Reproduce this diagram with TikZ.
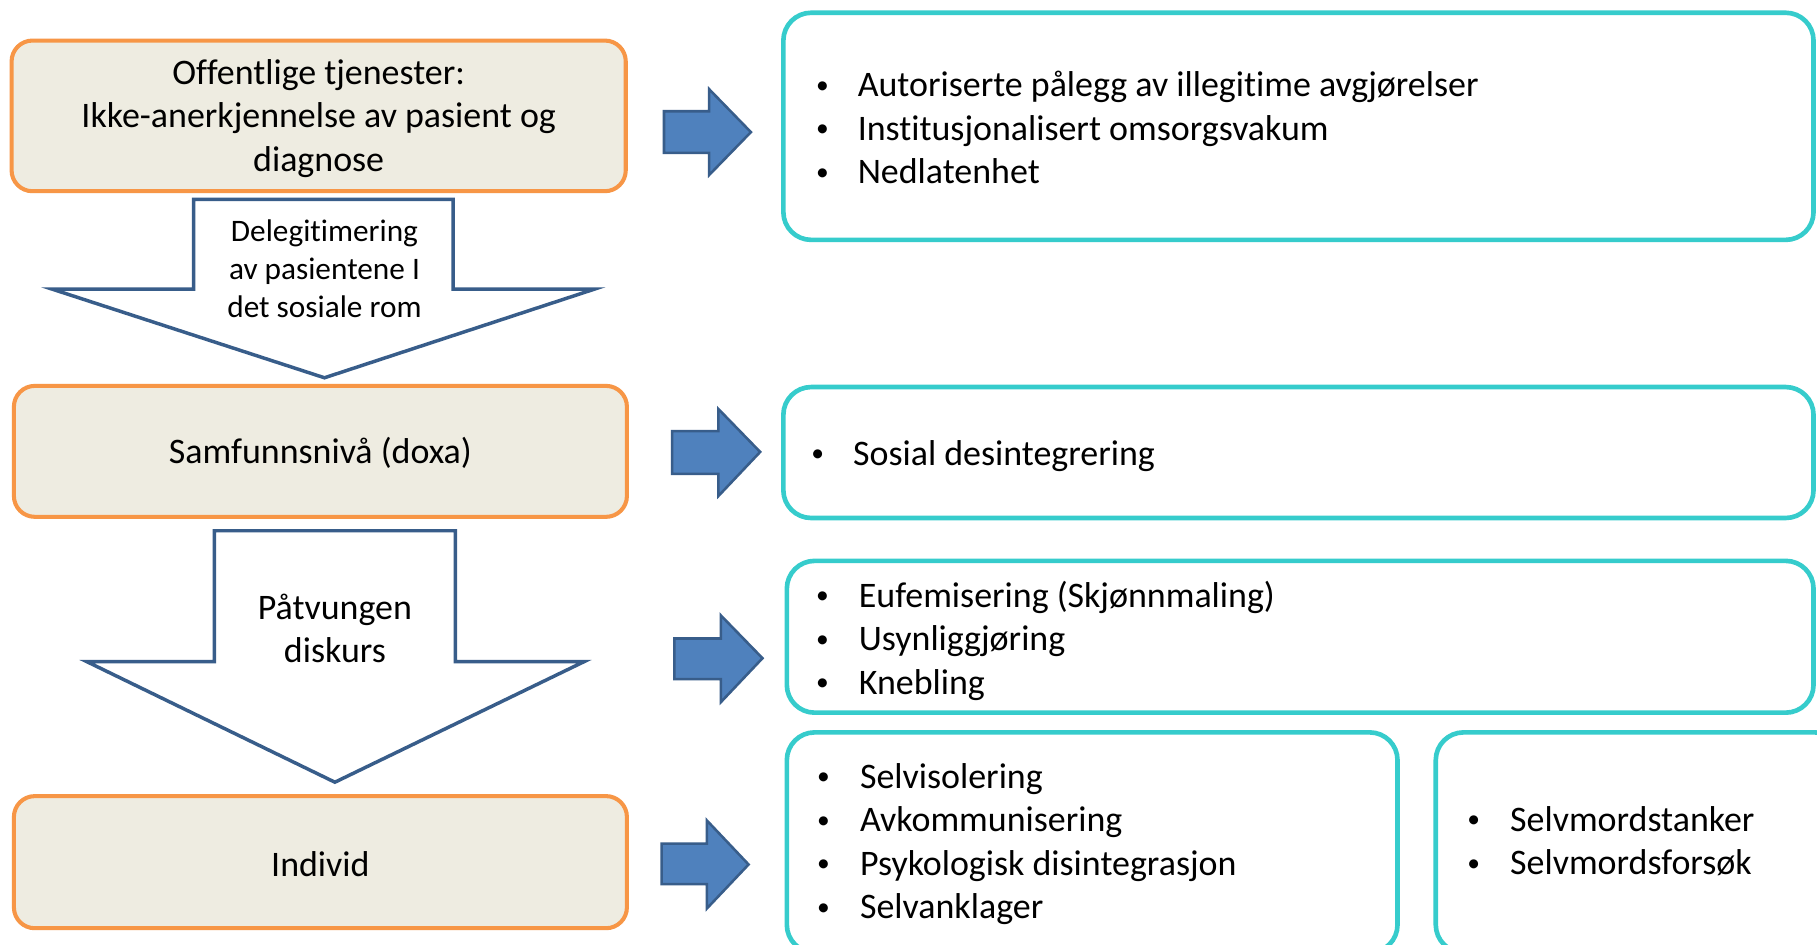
\documentclass[tikz,border=0pt]{standalone}
\usepackage{fontspec}
\setmainfont[Ligatures=NoCommon]{Carlito}
\definecolor{orng}{HTML}{F79646}
\definecolor{beige}{HTML}{EEECE1}
\definecolor{tealb}{HTML}{36CCCC}
\definecolor{darkb}{HTML}{385D8A}
\definecolor{arrb}{HTML}{4F81BD}
\newcommand{\bul}{\raisebox{3pt}{\fontsize{22}{22}\selectfont •}}
\begin{document}
\begin{tikzpicture}[x=1pt,y=-1pt,
  obox/.style={draw=orng, fill=beige, line width=3.5pt, rounded corners=18pt, inner sep=0pt},
  tbox/.style={draw=tealb, line width=4pt, rounded corners=24pt, inner sep=0pt},
  darrow/.style={draw=darkb, fill=white, line width=3pt, line join=miter},
  rarrow/.style={draw=darkb, fill=arrb, line width=2.2pt, line join=miter},
  txt/.style={font=\fontsize{31}{37.5}\selectfont, align=center, inner sep=0pt},
  stxt/.style={font=\fontsize{27}{33}\selectfont, align=center, inner sep=0pt},
  blist/.style={font=\fontsize{31}{37.5}\selectfont, inner sep=0pt, anchor=west},
]
\clip (0,0) rectangle (1568,815);
\fill[white] (0,0) rectangle (1568,815);

% orange boxes
\node[obox, minimum width=530pt, minimum height=130pt] (o1) at (275,100) {};
\node[txt] (o1t) at (275,102) {Offentlige tjenester:\\Ikke-anerkjennelse av pasient og\\diagnose};
\node[obox, minimum width=529pt, minimum height=113pt] (o2) at (276.5,389.5) {};
\node[txt] (o2t) at (276.5,391) {Samfunnsnivå (doxa)};
\node[obox, minimum width=529pt, minimum height=114pt] (o3) at (276.5,744) {};
\node[txt] (o3t) at (276.5,745.5) {Individ};

% teal boxes
\node[tbox, minimum width=889pt, minimum height=196pt] (t1) at (1120.5,109) {};
\node[tbox, minimum width=889pt, minimum height=113pt] (t2) at (1120.5,390.5) {};
\node[tbox, minimum width=886pt, minimum height=131pt] (t3) at (1122,549.5) {};
\node[tbox, minimum width=527pt, minimum height=190pt] (t4) at (942.5,727) {};
\node[tbox, minimum width=351pt, minimum height=190pt] (t5) at (1414.5,727) {};

\node[blist] (l1) at (704,113.5) {\begin{tabular}{@{}p{36pt}@{}l@{}}\bul&Autoriserte pålegg av illegitime avgjørelser\\\bul&Institusjonalisert omsorgsvakum\\\bul&Nedlatenhet\end{tabular}};
\node[blist] (l2) at (700,394) {\begin{tabular}{@{}p{36pt}@{}l@{}}\bul&Sosial desintegrering\end{tabular}};
\node[blist] (l3) at (704,554) {\begin{tabular}{@{}p{37pt}@{}l@{}}\bul&Eufemisering (Skjønnmaling)\\\bul&Usynliggjøring\\\bul&Knebling\end{tabular}};
\node[blist] (l4) at (705,729) {\begin{tabular}{@{}p{37pt}@{}l@{}}\bul&Selvisolering\\\bul&Avkommunisering\\\bul&Psykologisk disintegrasjon\\\bul&Selvanklager\end{tabular}};
\node[blist] (l5) at (1266,728.5) {\begin{tabular}{@{}p{37pt}@{}l@{}}\bul&Selvmordstanker\\\bul&Selvmordsforsøk\end{tabular}};

% down arrows
\draw[darrow] (167,172) -- (391,172) -- (391,249.5) -- (513,249.5) -- (280,326) -- (45,249.5) -- (167,249.5) -- cycle;
\node[stxt] (d1t) at (280,232) {Delegitimering\\av pasientene I\\det sosiale rom};
\draw[darrow] (185,458) -- (393,458) -- (393,571) -- (504,571) -- (289,675) -- (75,571) -- (185,571) -- cycle;
\node[txt] (d2t) at (289,542.5) {Påtvungen\\diskurs};

% right block arrows
\draw[rarrow] (573,96) -- (612,96) -- (612,77) -- (648,114) -- (612,151) -- (612,132) -- (573,132) -- cycle;
\draw[rarrow] (580,372) -- (620,372) -- (620,353) -- (656,390) -- (620,428) -- (620,409) -- (580,409) -- cycle;
\draw[rarrow] (582,551) -- (622,551) -- (622,531) -- (658,568) -- (622,606) -- (622,586) -- (582,586) -- cycle;
\draw[rarrow] (571,728) -- (610,728) -- (610,708) -- (646,746) -- (610,784) -- (610,763) -- (571,763) -- cycle;
\end{tikzpicture}
\end{document}
